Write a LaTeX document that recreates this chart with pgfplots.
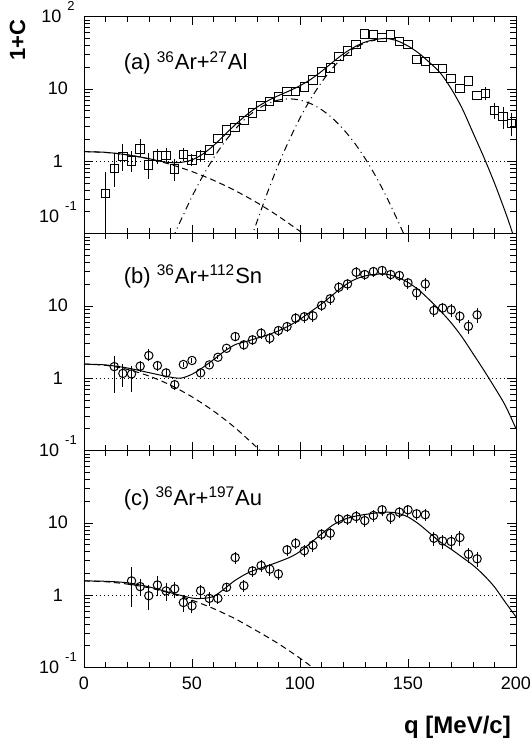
\documentclass[border=0pt]{standalone}
\usepackage{pgfplots}
\usepackage{pgfplotstable}
\pgfplotsset{compat=1.18}
\usepackage{fontspec}
\setmainfont{Liberation Sans}

% tick label like "10 ^2" (PAW style)
\newcommand{\tlab}[2]{#1\hspace{3pt}\smash{\raisebox{6pt}{\fontsize{6.5}{7}\selectfont #2}}}

\pgfplotstableread{
q v ep em
10 0.356 0.27 0.34
14 0.79 0.30 0.29
18 1.15 0.35 0.32
22 1.00 0.21 0.21
26 1.47 0.33 0.19
30 0.88 0.27 0.24
34 1.17 0.12 0.12
38 1.20 0.12 0.10
42 0.78 0.15 0.18
46 1.24 0.10 0.10
50 1.03 0.06 0.06
54 1.20 0.06 0.06
186 8.6 0.6 0.6
190 5.0 0.6 0.6
194 4.1 0.9 0.9
198 3.3 0.8 0.8
}\dataAerr
\pgfplotstableread{
q v
58 1.42
62 2.07
66 2.70
70 2.90
74 3.63
78 4.60
82 5.80
86 6.67
90 7.66
94 9.15
98 9.15
102 10.6
106 13.2
110 17.0
114 19.4
118 27.9
122 33.3
126 40.5
130 57.2
134 55.7
138 51.5
142 55.9
146 45.0
150 40.5
154 25.6
158 23.8
162 19.0
166 19.2
170 13.8
174 10.1
178 12.8
182 8.0
}\dataA
\pgfplotstableread{
q v ep em
14 1.44 0.55 0.82
18 1.16 0.41 0.41
22 1.14 0.35 0.50
26 1.46 0.25 0.25
30 2.05 0.45 0.35
34 1.49 0.25 0.25
38 1.18 0.15 0.15
42 0.81 0.12 0.12
46 1.54 0.12 0.12
50 1.75 0.12 0.12
54 1.18 0.10 0.10
58 1.52 0.10 0.10
62 1.94 0.12 0.12
66 2.58 0.15 0.15
70 3.75 0.40 0.40
74 2.88 0.45 0.45
78 3.38 0.55 0.55
82 4.17 0.7 0.7
86 3.55 0.6 0.6
90 4.54 0.75 0.75
94 5.15 0.85 0.85
98 6.72 1.1 1.1
102 7.05 1.2 1.2
106 7.25 1.2 1.2
110 10.1 1.7 1.7
114 12.5 2.1 2.1
118 18.0 3.0 3.0
122 20.0 3.4 3.4
126 29.0 4.9 4.9
130 27.0 4.6 4.6
134 29.7 5.0 5.0
138 30.7 5.2 5.2
142 27.0 4.6 4.6
146 26.2 4.5 4.5
150 20.7 3.5 3.5
154 15.1 3.0 3.0
158 20.0 4.0 4.0
162 8.6 1.6 1.6
166 9.3 1.7 1.7
170 8.77 1.7 1.7
174 7.16 1.4 1.4
178 5.2 1.1 1.1
182 7.48 1.7 1.7
}\dataB
\pgfplotstableread{
q v ep em
22 1.57 0.91 0.88
26 1.31 0.35 0.35
30 0.98 0.40 0.36
34 1.38 0.45 0.40
38 1.14 0.35 0.30
42 1.22 0.30 0.30
46 0.79 0.20 0.20
50 0.71 0.15 0.15
54 1.15 0.25 0.25
58 0.90 0.20 0.20
62 0.90 0.15 0.15
66 1.28 0.18 0.18
70 3.30 0.70 0.60
74 1.35 0.25 0.25
78 2.16 0.40 0.40
82 2.56 0.45 0.45
86 2.28 0.42 0.42
90 1.96 0.36 0.36
94 4.22 0.75 0.75
98 5.20 0.9 0.9
102 4.10 0.75 0.75
106 4.90 0.9 0.9
110 6.93 1.2 1.2
114 7.16 1.3 1.3
118 11.2 2.0 2.0
122 11.2 2.0 2.0
126 12.2 2.2 2.2
130 10.7 1.9 1.9
134 12.6 2.3 2.3
138 15.1 2.7 2.7
142 11.8 2.1 2.1
146 14.0 2.5 2.5
150 15.1 2.7 2.7
154 13.3 2.4 2.4
158 12.9 2.4 2.4
162 6.1 1.3 1.3
166 5.6 1.2 1.2
170 5.5 1.2 1.2
174 6.24 1.4 1.4
178 3.67 0.85 0.85
182 3.17 0.75 0.75
}\dataC

\tikzset{
  fitline/.style={black, smooth, line width=0.5pt},
  gdash/.style={black, smooth, line width=0.5pt, dash pattern=on 3pt off 2pt},
  gdot/.style={black, smooth, line width=0.5pt, dash pattern=on 3.5pt off 2pt on 0.5pt off 2pt},
  oneline/.style={black, line width=0.4pt, dash pattern=on 0.7pt off 1.3pt},
  plabel/.style={anchor=base west, font=\fontsize{11}{13}\selectfont},
}

\begin{document}
\begin{tikzpicture}
\useasboundingbox (-42pt,8.2pt) rectangle (223.5pt,-361.3pt);
% ---------------- (a) ----------------
\begin{axis}[at={(0,0)}, anchor=north west,
  scale only axis, width=216pt, height=108.5pt,
  xmin=0, xmax=200, ymode=log, ymin=0.1, ymax=100,
  clip mode=individual,
  xtick={0,50,100,150,200}, minor x tick num=4,
  ytick={0.1,1,10,100},
  tick style={black},
  yticklabel style={font=\fontsize{9}{10}\selectfont, anchor=center, xshift=-13pt},
  xticklabel style={font=\fontsize{9}{10}\selectfont, anchor=center, yshift=-8pt},
  xticklabels={},
  yticklabels={,1,10,\tlab{10}{2}}]
  \addplot[oneline, no marks] coordinates {(0,1) (200,1)};
  \addplot[gdash, no marks] coordinates {(0,1.35) (10,1.315) (20,1.22) (30,1.074) (40,0.90) (50,0.716) (60,0.542) (70,0.39) (80,0.267) (90,0.173) (100,0.107) (103,0.094)};
  \addplot[gdot, no marks] coordinates {(41,0.085) (45,0.156) (50,0.323) (55,0.621) (60,1.104) (65,1.82) (70,2.77) (75,3.92) (80,5.13) (85,6.21) (90,6.97) (95,7.24) (100,6.97) (105,6.21) (110,5.13) (115,3.92) (120,2.77) (125,1.82) (130,1.104) (135,0.621) (140,0.323) (145,0.156) (149,0.085)};
  \addplot[gdot, no marks] coordinates {(77,0.08) (80,0.143) (85,0.372) (90,0.891) (95,1.95) (100,3.94) (105,7.27) (110,12.3) (115,19.2) (120,27.4) (125,35.7) (130,42.9) (135,47.1)};
  \addplot[fitline, no marks] coordinates {(0,1.35) (10,1.32) (20,1.22) (30,1.08) (35,1.0) (40,0.95) (45,0.96) (50,1.04) (55,1.25) (60,1.64) (65,2.28) (70,3.18) (75,4.29) (80,5.54) (85,6.79) (90,8.03) (95,9.33) (100,11.0) (105,13.5) (110,17.4) (115,23.1) (120,30.2) (125,37.5) (130,44.0) (135,48.0) (140,49.5) (145,46.0) (150,39.0) (155,31.0) (160,23.0) (165,16.5) (170,10.0) (175,5.4) (180,2.5) (185,1.15) (190,0.5) (195,0.2) (198,0.11) (200,0.07)};
  \addplot[only marks, mark=square, mark size=2.1pt, mark options={black, line width=0.5pt},
    error bars/.cd, y dir=both, y explicit, error mark=-,
    error mark options={black, mark size=2pt, line width=0.5pt}]
    table[x=q, y=v, y error plus=ep, y error minus=em] {\dataAerr};
  \addplot[only marks, mark=square, mark size=2.1pt, mark options={black, line width=0.5pt}]
    table[x=q, y=v] {\dataA};
  \node[plabel] at (axis description cs:0.0757,0.753) {(a) \textsuperscript{36}Ar+\textsuperscript{27}Al};
  \node[font=\fontsize{9}{10}\selectfont] at (axis description cs:-0.0602,0.078) {\tlab{10}{-1}};
  \node[rotate=90, font=\bfseries\fontsize{11}{13}\selectfont] at (axis description cs:-0.154,0.891) {1+C};
\end{axis}
% ---------------- (b) ----------------
\begin{axis}[at={(0,-108.5pt)}, anchor=north west,
  scale only axis, width=216pt, height=108.5pt,
  xmin=0, xmax=200, ymode=log, ymin=0.1, ymax=100,
  clip mode=individual,
  xtick={0,50,100,150,200}, minor x tick num=4,
  ytick={0.1,1,10,100},
  tick style={black},
  yticklabel style={font=\fontsize{9}{10}\selectfont, anchor=center, xshift=-13pt},
  xticklabel style={font=\fontsize{9}{10}\selectfont, anchor=center, yshift=-8pt},
  xticklabels={},
  yticklabels={\tlab{10}{-1},1,10,}]
  \addplot[oneline, no marks] coordinates {(0,1) (200,1)};
  \addplot[gdash, no marks] coordinates {(0,1.56) (10,1.50) (20,1.32) (30,1.07) (40,0.80) (50,0.55) (60,0.35) (70,0.205) (80,0.11) (84,0.085)};
  \addplot[fitline, no marks] coordinates {(0,1.56) (10,1.52) (20,1.38) (30,1.19) (40,1.03) (45,1.0) (50,1.13) (55,1.40) (60,1.8) (65,2.35) (70,2.9) (75,3.2) (80,3.55) (85,3.95) (90,4.5) (95,5.3) (100,6.5) (105,8.3) (110,10.6) (115,14.0) (120,18.5) (125,22.8) (130,25.8) (135,27.3) (140,27.3) (145,24.8) (150,21.0) (155,16.5) (160,12.0) (165,8.5) (170,5.8) (175,3.7) (180,2.2) (185,1.3) (190,0.75) (195,0.42) (200,0.2)};
  \addplot[only marks, mark=o, mark size=2.1pt, mark options={black, line width=0.5pt},
    error bars/.cd, y dir=both, y explicit, error mark=none,
    error bar style={black, line width=0.5pt}]
    table[x=q, y=v, y error plus=ep, y error minus=em] {\dataB};
  \node[plabel] at (axis description cs:0.0757,0.770) {(b) \textsuperscript{36}Ar+\textsuperscript{112}Sn};
\end{axis}
% ---------------- (c) ----------------
\begin{axis}[at={(0,-217pt)}, anchor=north west,
  scale only axis, width=216pt, height=108.5pt,
  xmin=0, xmax=200, ymode=log, ymin=0.1, ymax=100,
  clip mode=individual,
  xtick={0,50,100,150,200}, minor x tick num=4,
  ytick={0.1,1,10,100},
  tick style={black},
  yticklabel style={font=\fontsize{9}{10}\selectfont, anchor=center, xshift=-13pt},
  xticklabel style={font=\fontsize{9}{10}\selectfont, anchor=center, yshift=-8pt},
  yticklabels={\tlab{10}{-1},1,10,},
  xticklabels={0,50,100,150,200}]
  \addplot[oneline, no marks] coordinates {(0,1) (200,1)};
  \addplot[gdash, no marks] coordinates {(0,1.57) (10,1.53) (20,1.42) (30,1.26) (40,1.06) (50,0.85) (60,0.65) (70,0.47) (80,0.32) (90,0.213) (100,0.134) (105,0.104) (107,0.093)};
  \addplot[fitline, no marks] coordinates {(0,1.57) (10,1.55) (20,1.48) (30,1.30) (40,1.08) (50,0.91) (55,0.90) (60,0.96) (65,1.22) (70,1.6) (77,2.1) (86,2.6) (95,3.3) (100,4.0) (105,5.3) (110,7.0) (115,9.2) (120,11.0) (125,12.2) (130,13.0) (135,13.6) (140,14.0) (145,13.6) (150,12.0) (155,9.6) (160,7.2) (165,5.4) (170,4.3) (175,3.35) (180,2.6) (185,1.9) (190,1.3) (195,0.8) (200,0.5)};
  \addplot[only marks, mark=o, mark size=2.1pt, mark options={black, line width=0.5pt},
    error bars/.cd, y dir=both, y explicit, error mark=none,
    error bar style={black, line width=0.5pt}]
    table[x=q, y=v, y error plus=ep, y error minus=em] {\dataC};
  \node[plabel] at (axis description cs:0.0757,0.747) {(c) \textsuperscript{36}Ar+\textsuperscript{197}Au};
  \node[font=\bfseries\fontsize{12}{14}\selectfont] at (axis description cs:0.8646,-0.2765) {q [MeV/c]};
\end{axis}
\end{tikzpicture}
\end{document}
